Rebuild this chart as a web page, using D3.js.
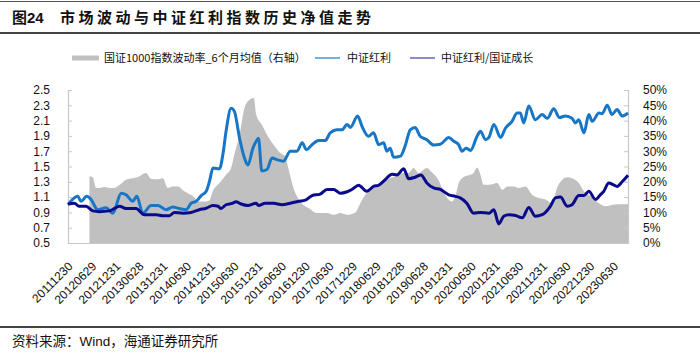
<!DOCTYPE html>
<html><head><meta charset="utf-8">
<script src="https://cdn.jsdelivr.net/npm/d3@7"></script>
<style>
html,body{margin:0;padding:0;background:#fff;}
svg{display:block;}
</style>
</head><body>
<svg id="chart" width="700" height="356"></svg>
<script>
// ---------------- DATA ----------------
const xTickLabels = ["20111230","20120629","20121231","20130628","20131231","20140630","20141231","20150630","20151231","20160630","20161230","20170630","20171229","20180629","20181228","20190628","20191231","20200630","20201231","20210630","20211231","20220630","20221230","20230630"];
const leftTicks = [0.5,0.7,0.9,1.1,1.3,1.5,1.7,1.9,2.1,2.3,2.5];
const rightTicks = [0,5,10,15,20,25,30,35,40,45,50];
const seriesNames = ["国证1000指数波动率_6个月均值（右轴）","中证红利","中证红利/国证成长"];

// 中证红利 (left axis)
const hlDates = ["2011-12-30","2012-03-14","2012-04-08","2012-05-22","2012-06-24","2012-08-15","2012-10-18","2012-12-09","2013-02-12","2013-03-21","2013-05-12","2013-06-12","2013-07-28","2013-09-30","2013-11-21","2014-01-24","2014-03-15","2014-05-06","2014-06-27","2014-08-04","2014-09-12","2014-10-21","2014-11-28","2014-12-24","2015-01-19","2015-03-10","2015-04-05","2015-04-30","2015-06-08","2015-07-03","2015-08-12","2015-09-19","2015-10-15","2015-11-23","2015-12-18","2016-01-05","2016-01-30","2016-03-10","2016-04-18","2016-05-25","2016-07-15","2016-09-06","2016-10-27","2016-12-06","2017-01-08","2017-02-20","2017-04-12","2017-06-02","2017-07-10","2017-08-31","2017-10-09","2017-11-17","2017-12-12","2018-02-06","2018-03-12","2018-05-01","2018-06-09","2018-07-18","2018-08-25","2018-09-20","2018-10-15","2018-11-10","2019-01-02","2019-02-10","2019-03-18","2019-04-25","2019-06-03","2019-07-24","2019-09-14","2019-11-05","2020-01-09","2020-02-16","2020-03-25","2020-04-20","2020-05-21","2020-06-24","2020-08-14","2020-09-09","2020-10-18","2020-11-13","2020-12-21","2021-02-11","2021-03-20","2021-05-10","2021-06-18","2021-07-13","2021-08-08","2021-09-16","2021-11-06","2021-12-28","2022-02-05","2022-03-27","2022-05-10","2022-06-25","2022-08-15","2022-09-10","2022-10-06","2022-11-15","2022-12-22","2023-01-18","2023-03-10","2023-04-04","2023-05-13","2023-06-19","2023-07-28","2023-09-05","2023-10-20"];
const hlValues = [1.00,1.11,1.045,1.11,1.07,0.935,0.96,0.89,1.15,1.13,1.045,1.11,0.89,0.99,0.99,0.935,0.97,0.95,0.935,1.02,1.045,1.12,1.175,1.31,1.48,1.47,1.65,1.96,2.26,2.22,1.87,1.61,1.52,1.74,1.83,1.87,1.44,1.46,1.61,1.59,1.57,1.70,1.70,1.81,1.72,1.785,1.84,1.84,1.94,1.98,1.98,2.05,2.01,2.16,2.025,1.895,1.94,1.785,1.81,1.70,1.74,1.62,1.635,1.785,1.98,2.01,1.895,1.85,1.78,1.79,1.88,1.83,1.785,1.70,1.74,1.71,1.895,1.96,1.85,1.88,2.05,1.88,2.00,2.09,2.20,2.20,2.07,2.29,2.11,2.18,2.13,2.255,2.14,2.16,2.13,2.07,2.11,1.94,2.18,2.09,2.20,2.19,2.30,2.18,2.245,2.16,2.20];

// 中证红利/国证成长 (left axis)
const ratioDates = ["2011-12-30","2012-02-17","2012-03-24","2012-05-17","2012-07-08","2012-08-28","2012-11-14","2013-01-30","2013-03-21","2013-06-06","2013-08-09","2013-11-08","2013-12-30","2014-02-18","2014-03-28","2014-06-01","2014-08-04","2014-10-06","2014-11-28","2015-01-19","2015-02-28","2015-03-22","2015-04-30","2015-06-21","2015-07-15","2015-08-24","2015-10-15","2015-12-18","2016-01-05","2016-02-26","2016-04-30","2016-07-03","2016-09-06","2016-11-09","2016-12-30","2017-02-20","2017-04-24","2017-06-15","2017-08-06","2017-09-27","2017-11-17","2017-12-24","2018-02-14","2018-04-18","2018-06-09","2018-07-18","2018-09-08","2018-10-28","2018-12-06","2019-01-27","2019-03-06","2019-04-25","2019-06-09","2019-07-24","2019-09-14","2019-11-05","2020-01-09","2020-02-29","2020-04-06","2020-05-27","2020-07-18","2020-09-09","2020-11-13","2020-12-21","2021-01-28","2021-03-07","2021-04-15","2021-06-06","2021-07-28","2021-09-16","2021-11-06","2021-12-28","2022-03-01","2022-04-09","2022-05-18","2022-07-09","2022-08-15","2022-10-06","2022-11-15","2022-12-22","2023-02-12","2023-03-21","2023-04-16","2023-05-25","2023-07-01","2023-07-28","2023-09-05","2023-10-20"];
const ratioValues = [1.01,1.02,0.98,0.98,0.92,0.91,0.92,0.98,0.95,0.95,0.87,0.87,0.857,0.857,0.90,0.89,0.90,0.935,0.955,0.99,0.98,0.95,1.00,1.02,1.04,1.01,0.99,1.02,0.99,1.02,1.02,1.00,1.02,1.045,1.06,1.12,1.14,1.20,1.20,1.15,1.17,1.20,1.255,1.175,1.24,1.255,1.33,1.40,1.39,1.47,1.34,1.36,1.39,1.285,1.22,1.20,1.13,1.11,1.09,1.02,0.89,0.90,0.89,0.935,0.75,0.85,0.87,0.86,0.83,0.965,0.85,0.87,0.98,1.09,1.10,0.98,1.00,1.12,1.12,1.175,1.07,1.13,1.175,1.285,1.26,1.24,1.30,1.385];

// 国证1000指数波动率_6个月均值 (right axis, %)
const volDates = ["2012-06-12","2012-07-08","2012-08-02","2012-08-28","2012-10-05","2012-11-14","2012-12-20","2013-01-30","2013-03-21","2013-05-12","2013-06-18","2013-08-21","2013-09-30","2013-11-21","2013-12-30","2014-02-06","2014-03-15","2014-04-24","2014-06-13","2014-08-18","2014-10-06","2014-11-28","2014-12-24","2015-01-19","2015-03-10","2015-04-30","2015-06-08","2015-07-03","2015-08-12","2015-09-19","2015-10-28","2015-11-30","2015-12-18","2016-01-30","2016-03-10","2016-04-30","2016-06-21","2016-07-28","2016-08-24","2016-09-30","2016-11-21","2017-01-24","2017-03-30","2017-06-15","2017-08-06","2017-09-27","2017-11-17","2018-01-20","2018-02-27","2018-04-06","2018-05-27","2018-07-30","2018-09-20","2018-11-24","2019-01-27","2019-03-06","2019-04-12","2019-05-21","2019-07-24","2019-09-02","2019-10-20","2019-11-18","2019-12-27","2020-02-03","2020-02-29","2020-03-25","2020-04-20","2020-06-09","2020-07-18","2020-08-14","2020-09-09","2020-10-03","2020-11-13","2021-01-16","2021-02-24","2021-04-03","2021-05-22","2021-06-30","2021-08-21","2021-10-12","2021-12-03","2022-01-24","2022-03-15","2022-04-21","2022-05-31","2022-07-09","2022-08-15","2022-10-06","2022-11-15","2023-01-06","2023-03-10","2023-04-30","2023-06-19","2023-08-09","2023-10-20"];
const volValues = [21.8,21.5,18,18,18.3,18,18,19,20.7,21.2,21.5,22.9,21,20.8,21.2,18,18.5,18.5,16.9,15.3,13.6,13.6,14,17,19.6,22.3,24.5,28.9,35.4,44.1,46.8,47.4,42,38.7,35.4,32.1,29.4,28.3,24,18,13.6,11.4,9.8,9.8,9.2,9.8,9.2,10,13,15.8,17.4,19,20.7,21.8,22.9,22.9,24.5,22.9,24.5,23,20.7,18,14.7,13.6,15.3,19.6,21.2,22.1,22.9,24.7,22.3,19,19,19.6,17.4,18.5,18.5,18,18.5,15.8,14.7,14.2,13,18,20.7,21.5,21.2,19.6,16.9,15.3,13,12,12.5,12.7,12.7];

// ---------------- CHART ----------------
const parse = d3.timeParse("%Y-%m-%d");
const tickParse = d3.timeParse("%Y%m%d");
const svg = d3.select("#chart");
const W = 700, H = 356;
const plot = {left: 68, right: 628, top: 90, bottom: 243};

const x = d3.scaleTime().domain([parse("2011-12-30"), parse("2023-10-20")]).range([plot.left, plot.right]);
const yL = d3.scaleLinear().domain([0.5, 2.5]).range([plot.bottom, plot.top]);
const yR = d3.scaleLinear().domain([0, 50]).range([plot.bottom, plot.top]);

const hl = hlDates.map((d,i)=>({d:parse(d), v:hlValues[i]}));
const ratio = ratioDates.map((d,i)=>({d:parse(d), v:ratioValues[i]}));
const vol = volDates.map((d,i)=>({d:parse(d), v:volValues[i]}));

const CJK = "'Noto Sans CJK SC','Noto Sans',sans-serif";
const NUM = "'Liberation Sans',Arial,sans-serif";

// header rules
svg.append("line").attr("x1",0).attr("x2",W).attr("y1",1.5).attr("y2",1.5).attr("stroke","#555").attr("stroke-width",1);
svg.append("line").attr("x1",0).attr("x2",W).attr("y1",33).attr("y2",33).attr("stroke","#444").attr("stroke-width",2);
svg.append("line").attr("x1",0).attr("x2",W).attr("y1",327).attr("y2",327).attr("stroke","#444").attr("stroke-width",2);

// title
const title = svg.append("text").attr("x",12).attr("y",23).attr("font-family",CJK).attr("font-weight","bold").attr("font-size",15).attr("fill","#111");
title.append("tspan").text("图");
title.append("tspan").attr("font-family",NUM).text("24");
title.append("tspan").attr("x",60).attr("letter-spacing","3.5px").text("市场波动与中证红利指数历史净值走势");

// source
const src = svg.append("text").attr("x",12).attr("y",346).attr("font-size",13.5).attr("fill","#111").attr("font-family",CJK);
src.append("tspan").text("资料来源：");
src.append("tspan").attr("font-family",NUM).text("Wind");
src.append("tspan").text("，海通证券研究所");

// area
const area = d3.area().x(d=>x(d.d)).y0(yR(0)).y1(d=>yR(d.v)).curve(d3.curveMonotoneX);
svg.append("path").datum(vol).attr("d",area).attr("fill","#c0c0c0");

// axes
const axisColor = "#c8c8c8";
const gL = svg.append("g").attr("transform",`translate(${plot.left},0)`)
  .call(d3.axisLeft(yL).tickValues(leftTicks).tickSize(-4).tickPadding(18).tickFormat(d3.format(".1f")));
const gR = svg.append("g").attr("transform",`translate(${plot.right},0)`)
  .call(d3.axisRight(yR).tickValues(rightTicks).tickSize(-4).tickPadding(15).tickFormat(d=>d+"%"));
[gL,gR].forEach(g=>{
  g.select(".domain").attr("stroke",axisColor).attr("stroke-width",1.2);
  g.selectAll(".tick line").attr("stroke",axisColor);
  g.selectAll(".tick text").attr("font-family",NUM).attr("font-size",12).attr("fill","#111");
});
const gX = svg.append("g").attr("transform",`translate(0,${plot.bottom})`)
  .call(d3.axisBottom(x).tickValues(xTickLabels.map(tickParse)).tickSize(0).tickFormat(d3.timeFormat("%Y%m%d")));
gX.select(".domain").attr("stroke",axisColor).attr("stroke-width",1.2);
gX.selectAll(".tick text")
  .attr("font-family",NUM).attr("font-size",12).attr("fill","#111")
  .attr("text-anchor","end").attr("dy",0).attr("y",0)
  .attr("transform","translate(5,24) rotate(-45)");

// lines
const line = d3.line().x(d=>x(d.d)).y(d=>yL(d.v)).curve(d3.curveMonotoneX);
svg.append("path").datum(hl).attr("d",line).attr("fill","none").attr("stroke","#1777c6").attr("stroke-width",3).attr("stroke-linejoin","round");
svg.append("path").datum(ratio).attr("d",line).attr("fill","none").attr("stroke","#0a0a8c").attr("stroke-width",3).attr("stroke-linejoin","round");

// legend
const lg = svg.append("g").attr("font-family",CJK).attr("font-size",11).attr("fill","#111");
lg.append("rect").attr("x",72).attr("y",55.5).attr("width",27).attr("height",5).attr("fill","#c0c0c0");
lg.append("text").attr("x",104).attr("y",62).text(seriesNames[0]);
lg.append("line").attr("x1",315).attr("x2",340).attr("y1",58).attr("y2",58).attr("stroke","#1a7bc9").attr("stroke-width",1.2);
lg.append("text").attr("x",347).attr("y",62).text(seriesNames[1]);
lg.append("line").attr("x1",410).attr("x2",435).attr("y1",58).attr("y2",58).attr("stroke","#3b3bb0").attr("stroke-width",1.2);
lg.append("text").attr("x",441).attr("y",62).text(seriesNames[2]);
</script>
</body></html>
